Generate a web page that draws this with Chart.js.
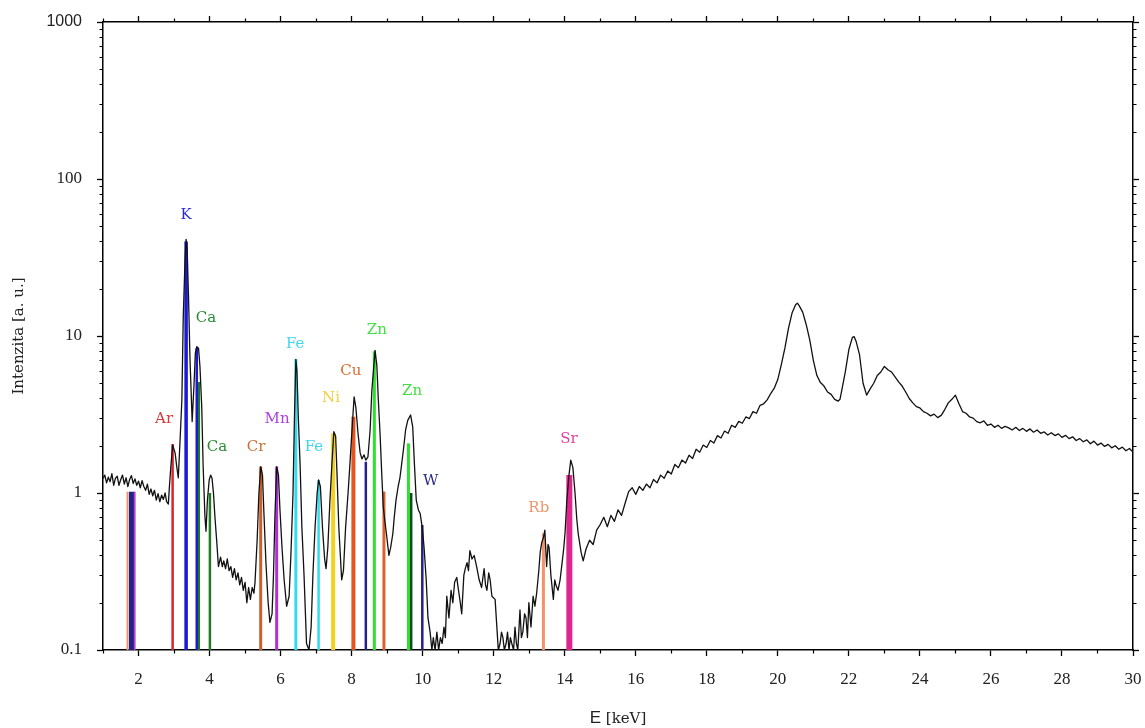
<!DOCTYPE html>
<html>
<head>
<meta charset="utf-8">
<script src="https://cdn.jsdelivr.net/npm/chart.js@4.4.0/dist/chart.umd.min.js"></script>
<style>
  html, body { margin: 0; padding: 0; background: #fff; }
  canvas { display: block; }
</style>
</head>
<body>
<canvas id="spettro" width="1145" height="728"></canvas>
<script>
// spettro XRF: [energia keV, intensita a.u.]
const spectrum = [
  [1.00,1.24],[1.05,1.30],[1.10,1.16],[1.15,1.26],[1.20,1.18],[1.25,1.33],[1.30,1.12],[1.35,1.24],
  [1.40,1.28],[1.45,1.12],[1.50,1.22],[1.55,1.30],[1.60,1.14],[1.65,1.25],[1.70,1.10],[1.75,1.22],
  [1.80,1.29],[1.85,1.15],[1.90,1.23],[1.95,1.12],[2.00,1.19],[2.05,1.08],[2.10,1.20],[2.15,1.10],
  [2.20,1.04],[2.25,1.14],[2.30,0.98],[2.35,1.06],[2.40,0.96],[2.45,1.04],[2.50,0.90],[2.55,0.99],
  [2.60,0.88],[2.65,0.97],[2.70,0.91],[2.75,1.00],[2.79,0.88],[2.84,0.85],[2.87,1.10],[2.91,1.47],
  [2.96,2.02],[3.03,1.80],[3.08,1.45],[3.12,1.25],[3.17,2.17],[3.22,3.9],[3.26,13.3],[3.31,30.5],
  [3.34,41.3],[3.37,35.3],[3.41,16.9],[3.45,7.0],[3.49,3.9],[3.51,2.85],[3.56,4.75],[3.60,7.76],
  [3.64,8.56],[3.69,8.35],[3.73,6.36],[3.78,3.55],[3.82,1.47],[3.87,0.71],[3.90,0.57],[3.94,0.9],
  [3.99,1.21],[4.03,1.30],[4.07,1.24],[4.11,1.0],[4.15,0.71],[4.20,0.50],[4.25,0.34],[4.31,0.39],
  [4.36,0.34],[4.40,0.37],[4.45,0.33],[4.50,0.38],[4.55,0.32],[4.60,0.34],[4.65,0.29],[4.70,0.33],
  [4.75,0.28],[4.80,0.31],[4.85,0.26],[4.90,0.29],[4.95,0.24],[5.00,0.27],[5.05,0.20],[5.10,0.25],
  [5.15,0.21],[5.20,0.25],[5.25,0.23],[5.28,0.27],[5.34,0.5],[5.39,1.0],[5.44,1.47],[5.49,1.3],
  [5.53,0.75],[5.59,0.35],[5.65,0.2],[5.70,0.15],[5.76,0.17],[5.80,0.3],[5.84,0.7],[5.89,1.47],
  [5.94,1.3],[5.98,0.8],[6.04,0.45],[6.10,0.28],[6.17,0.19],[6.24,0.22],[6.29,0.4],[6.35,1.0],
  [6.39,3.0],[6.43,7.1],[6.46,6.0],[6.50,3.0],[6.55,1.5],[6.60,0.6],[6.66,0.3],[6.73,0.11],
  [6.80,0.10],[6.86,0.14],[6.91,0.3],[6.97,0.6],[7.03,1.0],[7.07,1.21],[7.12,1.1],[7.18,0.6],
  [7.24,0.38],[7.28,0.33],[7.33,0.45],[7.39,0.9],[7.45,1.6],[7.50,2.46],[7.55,2.3],[7.59,1.3],
  [7.64,0.6],[7.72,0.28],[7.77,0.32],[7.83,0.6],[7.90,1.0],[7.95,1.5],[8.01,2.5],[8.07,4.1],
  [8.12,3.5],[8.18,2.4],[8.24,1.8],[8.29,1.65],[8.35,1.75],[8.40,1.62],[8.46,1.7],[8.52,2.5],
  [8.57,4.5],[8.66,8.1],[8.71,6.5],[8.75,4.0],[8.80,2.4],[8.85,1.3],[8.89,0.82],[8.94,0.65],
  [8.98,0.55],[9.05,0.40],[9.10,0.45],[9.16,0.55],[9.20,0.70],[9.25,0.9],[9.31,1.1],[9.36,1.25],
  [9.40,1.47],[9.46,1.9],[9.52,2.52],[9.58,2.9],[9.66,3.14],[9.72,2.64],[9.77,1.5],[9.82,0.9],
  [9.88,0.78],[9.93,0.74],[9.99,0.60],[10.04,0.45],[10.10,0.28],[10.15,0.16],[10.21,0.13],[10.26,0.10],
  [10.30,0.12],[10.35,0.10],[10.40,0.13],[10.45,0.10],[10.50,0.12],[10.55,0.11],[10.60,0.14],[10.64,0.12],
  [10.68,0.22],[10.74,0.16],[10.80,0.24],[10.85,0.20],[10.90,0.27],[10.96,0.29],[11.01,0.24],[11.06,0.20],
  [11.10,0.17],[11.16,0.30],[11.20,0.33],[11.25,0.36],[11.29,0.32],[11.33,0.43],[11.39,0.38],[11.45,0.40],
  [11.52,0.34],[11.59,0.28],[11.66,0.25],[11.73,0.33],[11.77,0.26],[11.81,0.24],[11.86,0.31],[11.90,0.28],
  [11.95,0.22],[12.04,0.21],[12.13,0.10],[12.18,0.11],[12.22,0.13],[12.26,0.12],[12.30,0.10],[12.35,0.11],
  [12.39,0.13],[12.43,0.10],[12.47,0.12],[12.51,0.11],[12.56,0.10],[12.60,0.14],[12.64,0.11],[12.68,0.10],
  [12.74,0.18],[12.78,0.12],[12.82,0.13],[12.87,0.17],[12.91,0.16],[12.95,0.12],[12.99,0.20],[13.05,0.14],
  [13.11,0.22],[13.16,0.19],[13.21,0.23],[13.27,0.32],[13.31,0.42],[13.35,0.48],[13.40,0.52],[13.44,0.58],
  [13.49,0.34],[13.53,0.47],[13.56,0.45],[13.61,0.30],[13.68,0.21],[13.72,0.28],[13.75,0.26],[13.81,0.24],
  [13.87,0.28],[13.92,0.35],[13.97,0.44],[14.01,0.56],[14.06,0.9],[14.12,1.3],[14.17,1.62],[14.23,1.45],
  [14.29,1.0],[14.34,0.68],[14.38,0.55],[14.46,0.42],[14.52,0.37],[14.6,0.44],[14.7,0.50],[14.8,0.47],
  [14.9,0.58],[15.0,0.63],[15.1,0.70],[15.2,0.61],[15.3,0.72],[15.4,0.66],[15.5,0.78],[15.6,0.72],
  [15.7,0.86],[15.8,1.02],[15.9,1.08],[16.0,0.98],[16.1,1.10],[16.2,1.04],[16.3,1.14],[16.4,1.08],
  [16.5,1.22],[16.6,1.16],[16.7,1.30],[16.8,1.24],[16.9,1.38],[17.0,1.32],[17.1,1.52],[17.2,1.45],
  [17.3,1.62],[17.4,1.55],[17.5,1.74],[17.6,1.66],[17.7,1.90],[17.8,1.82],[17.9,2.02],[18.0,1.95],
  [18.1,2.16],[18.2,2.08],[18.3,2.32],[18.4,2.24],[18.5,2.48],[18.6,2.40],[18.7,2.70],[18.8,2.62],
  [18.9,2.86],[19.0,2.78],[19.1,3.05],[19.2,2.98],[19.3,3.30],[19.4,3.22],[19.5,3.62],[19.6,3.70],
  [19.7,3.92],[19.8,4.30],[19.9,4.65],[20.0,5.3],[20.1,6.6],[20.2,8.4],[20.3,11.2],[20.4,14.0],
  [20.5,15.8],[20.55,16.2],[20.6,15.6],[20.7,14.2],[20.8,11.8],[20.9,9.4],[21.0,7.0],[21.1,5.6],
  [21.2,5.05],[21.3,4.80],[21.4,4.40],[21.5,4.25],[21.6,3.95],[21.7,3.85],[21.75,3.95],[21.8,4.5],
  [21.9,5.9],[22.0,8.2],[22.1,9.8],[22.15,9.9],[22.2,9.3],[22.3,7.6],[22.4,5.0],[22.5,4.2],
  [22.6,4.6],[22.7,5.0],[22.8,5.6],[22.9,5.9],[23.0,6.4],[23.1,6.1],[23.2,5.9],[23.3,5.5],
  [23.4,5.1],[23.5,4.8],[23.6,4.4],[23.7,4.0],[23.8,3.75],[23.9,3.55],[24.0,3.48],[24.1,3.30],
  [24.2,3.22],[24.3,3.10],[24.4,3.18],[24.5,3.02],[24.6,3.12],[24.7,3.40],[24.8,3.75],[24.9,3.95],
  [25.0,4.20],[25.1,3.70],[25.2,3.30],[25.3,3.22],[25.4,3.05],[25.5,3.00],[25.6,2.85],[25.7,2.80],
  [25.8,2.88],[25.9,2.70],[26.0,2.75],[26.1,2.62],[26.2,2.70],[26.3,2.58],[26.4,2.66],[26.5,2.60],
  [26.6,2.52],[26.7,2.62],[26.8,2.50],[26.9,2.58],[27.0,2.47],[27.1,2.56],[27.2,2.44],[27.3,2.52],
  [27.4,2.40],[27.5,2.45],[27.6,2.34],[27.7,2.42],[27.8,2.32],[27.9,2.38],[28.0,2.26],[28.1,2.33],
  [28.2,2.22],[28.3,2.28],[28.4,2.16],[28.5,2.22],[28.6,2.12],[28.7,2.18],[28.8,2.06],[28.9,2.14],
  [29.0,2.02],[29.1,2.08],[29.2,1.98],[29.3,2.04],[29.4,1.94],[29.5,2.00],[29.6,1.90],[29.7,1.96],
  [29.8,1.86],[29.9,1.92],[30.0,1.82]
];

// righe di emissione degli elementi
const lineElement = ['Rb','W','Sr','Ar','K','K','Ca','Ca','Cr','Mn','Fe','Fe','Ni','Cu','W','Zn','Cu','Zn','W','W','Rb','Sr'];
const lineKeV     = [1.69,1.80,1.89,2.96,3.34,3.64,3.69,4.01,5.44,5.89,6.43,7.07,7.48,8.05,8.40,8.64,8.91,9.60,9.67,9.99,13.40,14.13];
const lineTop     = [1.02,1.02,1.02,2.05,40,8.4,5.1,1.0,1.47,1.47,7.1,1.21,2.4,3.06,1.58,8.0,1.02,2.07,1.0,0.625,0.553,1.3];

// etichette
const labelText  = ['K','Ca','Ar','Ca','Cr','Mn','Fe','Fe','Ni','Cu','Zn','Zn','W','Rb','Sr'];
const labelKeV   = [3.34,3.90,2.72,4.21,5.31,5.90,6.41,6.94,7.42,7.98,8.71,9.70,10.23,13.27,14.12];
const labelLevel = [59,13,2.97,1.96,1.96,2.97,8.9,1.96,4.03,5.98,10.9,4.46,1.19,0.80,2.21];

const xTicks = [2,4,6,8,10,12,14,16,18,20,22,24,26,28,30];
const xMinor = [1,3,5,7,9,11,13,15,17,19,21,23,25,27,29];
const yTicks = [0.1,1,10,100,1000];
const yMinor = [0.2,0.3,0.4,0.5,0.6,0.7,0.8,0.9,2,3,4,5,6,7,8,9,20,30,40,50,60,70,80,90,200,300,400,500,600,700,800,900];

// stili
const lineColor = ['#f2936c','#22228a','#c43ac8','#d8262e','#1a1ad2','#1a1ad2','#1f7a24','#1f7a24','#c8602c','#b030d8','#30dced','#30dced',
                   '#f2d21c','#e8541e','#22228a','#2fe02f','#e0602a','#2fe02f','#0f4a22','#22228a','#f2936c','#e0258f'];
const lineWidth = [2,5,2,2.5,3.5,2.5,3,2.5,3,3,3,2.5,4,4,2.5,3,3,3,3,2.5,3,6];
const labelColor = { K:'#2a2ad8', Ca:'#2a8a30', Ar:'#d83a3a', Cr:'#c87038', Mn:'#b040d8', Fe:'#3ed8ec',
                     Ni:'#f0d040', Cu:'#e06a30', Zn:'#3ee03e', W:'#2a2a88', Rb:'#f0956a', Sr:'#e040a0' };

const tickFont = { family: 'Liberation Serif', size: 17 };
const topFont = { family: 'Liberation Sans', size: 16 };

const datasets = [{
  data: spectrum.map(p => ({ x: p[0], y: p[1] })),
  borderColor: '#111',
  borderWidth: 1.3,
  borderJoinStyle: 'round',
  pointRadius: 0,
  order: 0
}];
lineKeV.forEach((e, i) => {
  datasets.push({
    data: [{ x: e, y: 0.1 }, { x: e, y: lineTop[i] }],
    borderColor: lineColor[i],
    borderWidth: lineWidth[i],
    borderCapStyle: 'butt',
    pointRadius: 0,
    order: 1
  });
});

const decorazioni = {
  id: 'decorazioni',
  afterDraw(chart) {
    const c = chart.ctx, a = chart.chartArea;
    const x = chart.scales.x, y = chart.scales.y;
    c.save();
    c.strokeStyle = '#000';
    c.lineWidth = 1.2;
    c.beginPath();
    xMinor.forEach(v => {
      const px = Math.round(x.getPixelForValue(v)) + 0.5;
      c.moveTo(px, a.bottom); c.lineTo(px, a.bottom + 3.5);
      c.moveTo(px, a.top); c.lineTo(px, a.top - 3.5);
    });
    yMinor.forEach(v => {
      const py = Math.round(y.getPixelForValue(v)) + 0.5;
      c.moveTo(a.left, py); c.lineTo(a.left - 3.5, py);
      c.moveTo(a.right, py); c.lineTo(a.right + 3.5, py);
    });
    c.stroke();

    // etichette degli elementi
    c.font = '15px "DejaVu Serif"';
    c.textAlign = 'center';
    c.textBaseline = 'middle';
    labelText.forEach((t, i) => {
      c.fillStyle = labelColor[t];
      c.fillText(t, x.getPixelForValue(labelKeV[i]), y.getPixelForValue(labelLevel[i]));
    });

    // titolo asse x
    c.fillStyle = '#222';
    c.textAlign = 'left';
    c.font = '17px "Liberation Sans"';
    const w1 = c.measureText('E ').width;
    c.font = '15px "DejaVu Serif"';
    const w2 = c.measureText('[keV]').width;
    const x0 = (a.left + a.right) / 2 - (w1 + w2) / 2;
    c.font = '17px "Liberation Sans"';
    c.fillText('E', x0, 718);
    c.font = '15px "DejaVu Serif"';
    c.fillText('[keV]', x0 + w1, 719);
    c.restore();
  }
};

const axisGrid = { display: true, drawOnChartArea: false, drawTicks: true, tickLength: 6, color: '#000', tickColor: '#000', tickWidth: 1.3 };
const axisBorder = { display: true, color: '#000', width: 1.5 };
const noPadX = ax => { ax.paddingLeft = 0; ax.paddingRight = 0; };
const noPadY = ax => { ax.paddingTop = 0; ax.paddingBottom = 0; };

new Chart(document.getElementById('spettro'), {
  type: 'line',
  data: { datasets },
  plugins: [decorazioni],
  options: {
    responsive: false,
    animation: false,
    devicePixelRatio: 1,
    layout: { padding: 0 },
    plugins: { legend: { display: false }, tooltip: { enabled: false } },
    scales: {
      x: {
        type: 'linear', position: 'bottom', min: 1, max: 30,
        afterBuildTicks: ax => { ax.ticks = xTicks.map(v => ({ value: v })); },
        afterFit: ax => { ax.height = 78; noPadX(ax); },
        grid: axisGrid, border: axisBorder,
        ticks: { font: tickFont, color: '#222', padding: 13, maxRotation: 0, autoSkip: false }
      },
      xTop: {
        type: 'linear', position: 'top', min: 1, max: 30,
        afterBuildTicks: ax => { ax.ticks = xTicks.map(v => ({ value: v })); },
        afterFit: ax => { ax.height = 22; noPadX(ax); },
        grid: axisGrid, border: axisBorder,
        ticks: { display: false }
      },
      y: {
        type: 'logarithmic', position: 'left', min: 0.1, max: 1000,
        afterBuildTicks: ax => { ax.ticks = yTicks.map(v => ({ value: v })); },
        afterFit: ax => { ax.width = 103; noPadY(ax); },
        grid: axisGrid, border: axisBorder,
        title: { display: true, text: 'Intenzita [a. u.]', color: '#222', font: { family: 'DejaVu Serif', size: 15 }, padding: { top: 10, bottom: 0 } },
        ticks: {
          color: '#222', padding: 15, autoSkip: false,
          font: c => (c.tick && c.tick.value === 1000 ? topFont : tickFont),
          callback: v => String(v)
        }
      },
      yRight: {
        type: 'logarithmic', position: 'right', min: 0.1, max: 1000,
        afterBuildTicks: ax => { ax.ticks = yTicks.map(v => ({ value: v })); },
        afterFit: ax => { ax.width = 12; noPadY(ax); },
        grid: axisGrid, border: axisBorder,
        ticks: { display: false }
      }
    }
  }
});
</script>
</body>
</html>
